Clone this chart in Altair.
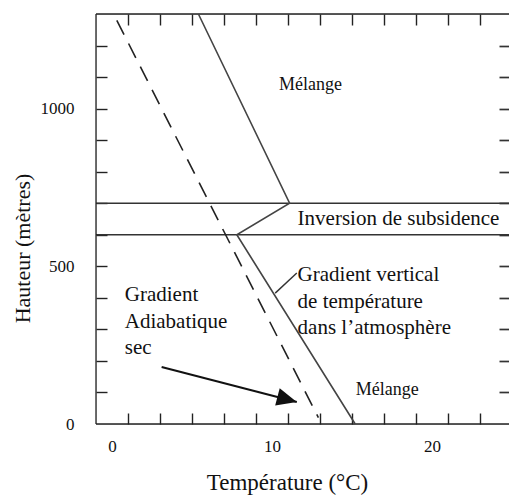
import math
import altair as alt
import pandas as pd

# ---------------- data ----------------
x_min, x_max = -1.0, 24.8125
y_min, y_max = 0, 1300

x_label_values = [0, 10, 20]
y_label_values = [0, 500, 1000]
x_tick_values = [1, 3, 5, 7, 9, 11, 13, 15, 17, 19, 21, 23]
y_tick_values = [100, 200, 300, 400, 500, 600, 700, 800, 900, 1000, 1100, 1200]

profile_temp = [5.4, 11.1, 7.8, 15.2]
profile_height = [1300, 700, 600, 0]

adiabat_temp = [0.3, 12.9]
adiabat_height = [1280, 20]

inversion_heights = [600, 700]

leader_temp = [10.2, 11.55]
leader_height = [415, 479]

arrow_temp = [3.1, 11.55]
arrow_height = [181, 70]

big_text = ["Inversion de subsidence", "Gradient vertical", "de température",
            "dans l’atmosphère", "Gradient", "Adiabatique", "sec"]
big_text_temp = [11.6, 11.6, 11.6, 11.6, 0.8, 0.8, 0.8]
big_text_height = [650, 472, 387, 304, 409, 323, 241]

small_text = ["Mélange", "Mélange"]
small_text_temp = [12.4, 17.2]
small_text_height = [1075, 108]

# ---------------- layout ----------------
W, H = 413, 410
PAD = {"left": 96, "top": 14, "right": 0, "bottom": 74}
FONT = "Liberation Serif"
INK = "#111111"
TICK = 11

xs = alt.Scale(domain=[x_min, x_max], nice=False, zero=False)
ys = alt.Scale(domain=[y_min, y_max], nice=False, zero=False)

bottom_values = sorted(set(x_label_values + x_tick_values))
left_values = sorted(set(y_label_values + y_tick_values))

# bottom axis: pulled inside by TICK px so its ticks point inward; labels only at 0/10/20
x_axis = alt.Axis(values=bottom_values, format="d", grid=False, domain=False,
                  offset=-TICK, tickSize=TICK, tickWidth=1.4, tickColor="#222222",
                  tickOpacity={"condition": {"test": "datum.value % 10 === 0", "value": 0},
                               "value": 1},
                  labelExpr="datum.value % 10 === 0 ? datum.label : ''",
                  labelOverlap=False, labelFlush=False, labelBound=False,
                  labelFont=FONT, labelFontSize=17, labelColor=INK, labelPadding=14,
                  title="Température (°C)", titleFont=FONT, titleFontSize=23,
                  titleFontWeight="normal", titleColor=INK, titleX=191, titleY=65 + TICK,
                  titleBaseline="alphabetic", titleAlign="center")
y_axis = alt.Axis(values=left_values, format="d", grid=False, domain=False,
                  offset=-TICK, tickSize=TICK, tickWidth=1.4, tickColor="#222222",
                  tickOpacity={"condition": {"test": "datum.value === 0", "value": 0},
                               "value": 1},
                  labelExpr="datum.value % 500 === 0 ? datum.label : ''",
                  labelOverlap=False, labelFlush=False, labelBound=False,
                  labelFont=FONT, labelFontSize=17, labelColor=INK, labelPadding=22,
                  title="Hauteur (mètres)", titleFont=FONT, titleFontSize=22,
                  titleFontWeight="normal", titleColor=INK, titleX=-74 - TICK, titleY=234,
                  titleBaseline="middle", titleAlign="center", titleAngle=270)

# top and right axes: ticks only, also pulled inside
top_axis = alt.Axis(orient="top", values=x_tick_values, grid=False, domain=False,
                    labels=False, offset=-TICK, tickSize=TICK, tickWidth=1.4,
                    tickColor="#222222", title="")
right_axis = alt.Axis(orient="right", values=y_tick_values, grid=False, domain=False,
                      labels=False, offset=-(TICK - 1), tickSize=TICK - 1, tickWidth=1.7,
                      tickColor="#333333", title="")

X = alt.X("temp:Q", scale=xs, axis=x_axis)
Y = alt.Y("height:Q", scale=ys, axis=y_axis)


def frame(temps, heights):
    return pd.DataFrame({"temp": temps, "height": heights, "i": list(range(len(temps)))})


profile = alt.Chart(frame(profile_temp, profile_height)).mark_line(
    color="#444444", strokeWidth=1.6).encode(x=X, y=Y, order="i:Q")

adiabat = alt.Chart(frame(adiabat_temp, adiabat_height)).mark_line(
    color="#222222", strokeWidth=1.6, strokeDash=[16, 10]).encode(x=X, y=Y, order="i:Q")

inversion = alt.Chart(pd.DataFrame({"height": inversion_heights})).mark_rule(
    color="#333333", strokeWidth=1.3).encode(y=Y)

# frame borders (top, bottom, left) at the domain limits
hborders = alt.Chart(pd.DataFrame({"height": [y_min, y_max]})).mark_rule(
    color="#222222", strokeWidth=1.3).encode(y=Y)
vborder = alt.Chart(pd.DataFrame({"temp": [x_min]})).mark_rule(
    color="#222222", strokeWidth=1.3).encode(x=X)

leader = alt.Chart(frame(leader_temp, leader_height)).mark_line(
    color="#333333", strokeWidth=1.4).encode(x=X, y=Y, order="i:Q")

arrow_shaft = alt.Chart(frame(arrow_temp, arrow_height)).mark_line(
    color=INK, strokeWidth=2).encode(x=X, y=Y, order="i:Q")
px_x = W / (x_max - x_min)
px_y = H / (y_max - y_min)
dx = (arrow_temp[1] - arrow_temp[0]) * px_x
dy = -(arrow_height[1] - arrow_height[0]) * px_y
angle = math.degrees(math.atan2(dy, dx)) % 360
arrow_head = alt.Chart(frame([arrow_temp[1]], [arrow_height[1]])).mark_point(
    shape="M0,0L-1,-0.45L-1,0.45Z", filled=True, size=1600, angle=angle,
    color=INK, opacity=1, strokeWidth=0).encode(x=X, y=Y)

big = alt.Chart(pd.DataFrame({"temp": big_text_temp, "height": big_text_height,
                              "label": big_text})).mark_text(
    font=FONT, fontSize=21, align="left", baseline="middle", color=INK).encode(
    x=X, y=Y, text="label:N")
small = alt.Chart(pd.DataFrame({"temp": small_text_temp, "height": small_text_height,
                                "label": small_text})).mark_text(
    font=FONT, fontSize=18, align="center", baseline="middle", color=INK).encode(
    x=X, y=Y, text="label:N")

main = alt.layer(
    inversion, hborders, vborder,
    adiabat, profile, leader, arrow_shaft, arrow_head, big, small,
)

# invisible layer that carries the top and right tick axes
tick_carrier = alt.Chart(frame(profile_temp, profile_height)).mark_point(opacity=0).encode(
    x=alt.X("temp:Q", scale=xs, axis=top_axis),
    y=alt.Y("height:Q", scale=ys, axis=right_axis),
)

chart = alt.layer(main, tick_carrier).resolve_scale(
    x="shared", y="shared"
).resolve_axis(
    x="independent", y="independent"
).properties(
    width=W, height=H,
    autosize=alt.AutoSizeParams(type="none"),
    padding=PAD,
).configure_view(stroke="transparent").configure(background="white")

chart.save("out.html", embed_options={"renderer": "svg", "actions": False})
